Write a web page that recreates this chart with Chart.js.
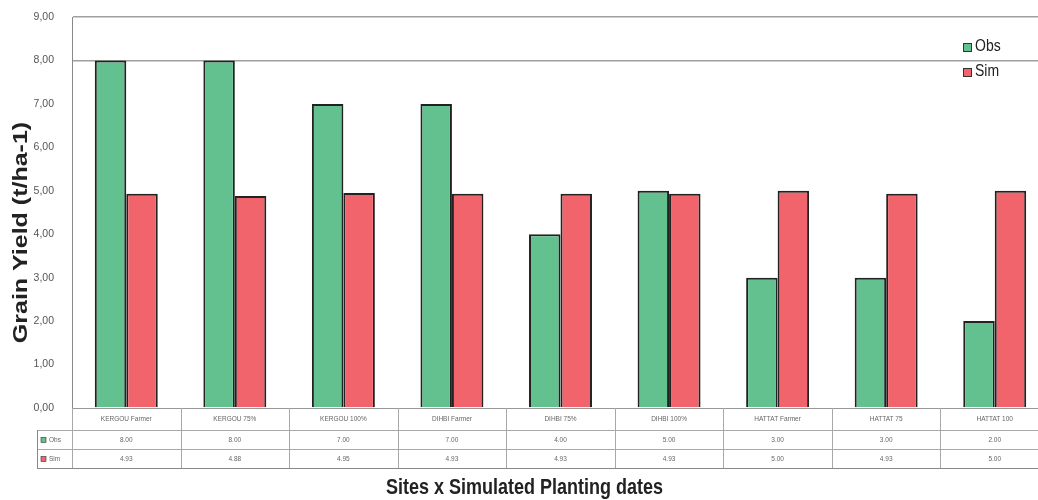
<!DOCTYPE html>
<html>
<head>
<meta charset="utf-8">
<script src="https://cdn.jsdelivr.net/npm/chart.js@4.4.1/dist/chart.umd.min.js"></script>
<style>
  html, body { margin: 0; padding: 0; background: #fff; overflow: hidden; }
  #wrap { width: 1052px; height: 500px; position: relative; }
</style>
</head>
<body>
<div id="wrap"><canvas id="c"></canvas></div>
<script>
const categories = ["KERGOU Farmer", "KERGOU 75%", "KERGOU 100%", "DIHBI Farmer", "DIHBI 75%", "DIHBI 100%", "HATTAT Farmer", "HATTAT 75", "HATTAT 100"];
const obsValues = [8.00, 8.00, 7.00, 7.00, 4.00, 5.00, 3.00, 3.00, 2.00];
const simValues = [4.93, 4.88, 4.95, 4.93, 4.93, 4.93, 5.00, 4.93, 5.00];
const yTicks = [0, 1, 2, 3, 4, 5, 6, 7, 8, 9];
const xTitle = 'Sites x Simulated Planting dates';
const yTitle = 'Grain Yield (t/ha-1)';

const GREEN = '#63c18f';
const RED = '#f2646b';
const FONT = '"Liberation Sans", Arial, sans-serif';

const tablePlugin = {
  id: 'dataTable',
  afterDraw(chart) {
    const ctx = chart.ctx;
    const xs = chart.scales.x;
    const ca = chart.chartArea;
    const n = categories.length;
    const step = xs.getPixelForValue(1) - xs.getPixelForValue(0);
    const y0 = ca.bottom, y1 = ca.bottom + 22, y2 = ca.bottom + 41, y3 = ca.bottom + 60;
    const tableLeft = 37;
    ctx.save();
    ctx.strokeStyle = '#a8a8a8';
    ctx.lineWidth = 1;
    ctx.beginPath();
    [y1, y2].forEach(y => { ctx.moveTo(tableLeft, y + 0.5); ctx.lineTo(ca.right, y + 0.5); });
    ctx.stroke();
    ctx.strokeStyle = '#888';
    ctx.beginPath();
    ctx.moveTo(tableLeft, y3 + 0.5); ctx.lineTo(ca.right, y3 + 0.5);
    ctx.moveTo(tableLeft + 0.5, y1); ctx.lineTo(tableLeft + 0.5, y3);
    ctx.stroke();
    ctx.strokeStyle = '#a8a8a8';
    ctx.beginPath();
    for (let i = 0; i <= n; i++) {
      const x = Math.round(xs.getPixelForValue(i) - step / 2) + 0.5;
      ctx.moveTo(x, y0); ctx.lineTo(x, y3);
    }
    ctx.stroke();
    ctx.fillStyle = '#666';
    ctx.font = '6.5px ' + FONT;
    ctx.textAlign = 'center';
    ctx.textBaseline = 'middle';
    for (let i = 0; i < n; i++) {
      const x = xs.getPixelForValue(i);
      ctx.fillText(categories[i], x, (y0 + y1) / 2);
      ctx.fillText(obsValues[i].toFixed(2), x, (y1 + y2) / 2 + 1);
      ctx.fillText(simValues[i].toFixed(2), x, (y2 + y3) / 2 + 1);
    }
    // row labels
    const ds = chart.data.datasets;
    const rowsY = [(y1 + y2) / 2 + 1, (y2 + y3) / 2 + 1];
    ds.forEach((d, k) => {
      ctx.fillStyle = d.backgroundColor;
      ctx.fillRect(tableLeft + 4, rowsY[k] - 3, 5, 5);
      ctx.strokeStyle = '#333';
      ctx.lineWidth = 0.6;
      ctx.strokeRect(tableLeft + 4, rowsY[k] - 3, 5, 5);
      ctx.fillStyle = '#666';
      ctx.textAlign = 'left';
      ctx.fillText(d.label, tableLeft + 12, rowsY[k]);
    });
    // legend
    ctx.font = '14px ' + FONT;
    ctx.textBaseline = 'middle';
    ds.forEach((d, k) => {
      const lx = ca.right - 86;
      const ly = ca.top + 30 + k * 25;
      ctx.fillStyle = d.backgroundColor;
      ctx.fillRect(lx, ly - 4, 8, 8);
      ctx.strokeStyle = '#333';
      ctx.lineWidth = 1;
      ctx.strokeRect(lx + 0.5, ly - 3.5, 8, 8);
      ctx.fillStyle = '#222';
      ctx.textAlign = 'left';
      ctx.save();
      ctx.translate(lx + 12, ly);
      ctx.scale(1, 1.15);
      ctx.fillText(d.label, 0, 0);
      ctx.restore();
    });
    // axis titles (vertically stretched like the reference)
    ctx.fillStyle = '#222';
    ctx.textAlign = 'center';
    ctx.textBaseline = 'alphabetic';
    ctx.font = 'bold 18px ' + FONT;
    ctx.save();
    ctx.translate((ca.left + ca.right) / 2 - 36, y3 + 26);
    ctx.scale(1, 1.2);
    ctx.fillText(xTitle, 0, 0);
    ctx.restore();
    ctx.font = 'bold 20px ' + FONT;
    ctx.save();
    ctx.translate(27, (ca.top + ca.bottom) / 2 + 20);
    ctx.rotate(-Math.PI / 2);
    ctx.scale(1.25, 1);
    ctx.fillText(yTitle, 0, 0);
    ctx.restore();
    ctx.restore();
  }
};

new Chart(document.getElementById('c'), {
  type: 'bar',
  data: {
    labels: categories,
    datasets: [
      { label: 'Obs', data: obsValues, backgroundColor: GREEN, borderColor: '#222', borderWidth: 2 },
      { label: 'Sim', data: simValues, backgroundColor: RED, borderColor: '#222', borderWidth: 2 }
    ]
  },
  options: {
    responsive: true,
    maintainAspectRatio: false,
    animation: false,
    layout: { padding: { top: 17, right: 3, left: 0, bottom: 34 } },
    datasets: { bar: { categoryPercentage: 0.58, barPercentage: 1.0 } },
    plugins: {
      legend: { display: false },
      tooltip: { enabled: false },
      title: { display: false }
    },
    scales: {
      x: {
        ticks: { display: false },
        grid: { display: false },
        border: { display: true, color: '#999' },
        afterFit(scale) { scale.height = 58; scale.paddingLeft = 0; scale.paddingRight = 0; }
      },
      y: {
        min: 0,
        max: 9,
        afterBuildTicks(scale) { scale.ticks = yTicks.map(v => ({ value: v })); },
        ticks: {
          color: '#555',
          font: { family: FONT, size: 10.5 },
          padding: 18,
          callback: v => Number(v).toFixed(2).replace('.', ',')
        },
        grid: {
          drawTicks: false,
          color: ctx => (ctx.tick && (ctx.tick.value === 8 || ctx.tick.value === 9)) ? '#a0a0a0' : 'rgba(0,0,0,0)',
          lineWidth: 1.5
        },
        border: { display: true, color: '#888' },
        title: { display: false },
        afterFit(scale) { scale.width = 72; scale.paddingTop = 0; scale.paddingBottom = 0; }
      }
    }
  },
  plugins: [tablePlugin]
});
</script>
</body>
</html>
